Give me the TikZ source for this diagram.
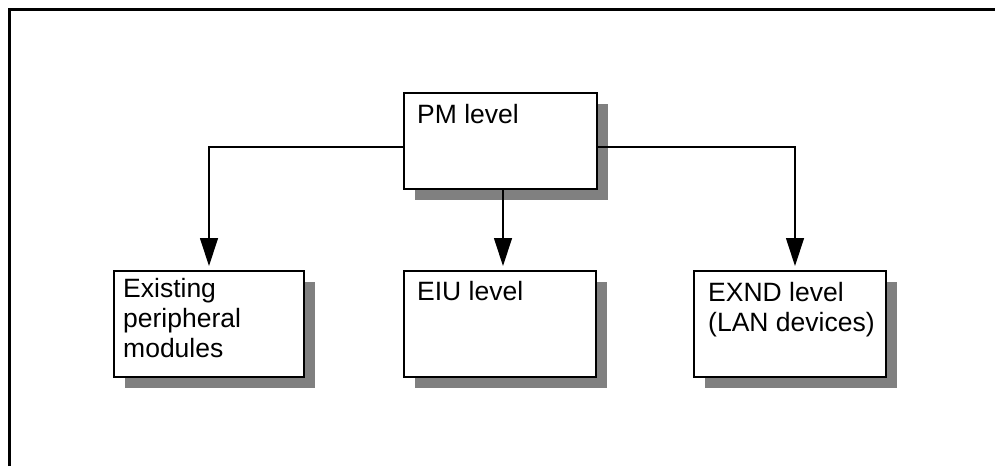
\documentclass[tikz,border=0pt]{standalone}
\usepackage{fontspec}
\setmainfont{Liberation Sans}
\usetikzlibrary{arrows.meta,shadows}
\definecolor{shadowgray}{HTML}{808080}
\begin{document}
\begin{tikzpicture}[x=1pt,y=-1pt,
  levelbox/.style={draw=black, line width=1.6pt, fill=white, inner sep=0pt,
    anchor=north west, minimum width=#1,
    drop shadow={shadow xshift=11pt, shadow yshift=-11pt, fill=shadowgray, opacity=1}},
  boxtext/.style={anchor=base west, inner sep=0pt, align=left,
    font=\fontsize{26.5pt}{30pt}\selectfont},
  link/.style={line width=1.2pt, draw=black},
  arrowlink/.style={link, -{Triangle[width=18pt,length=28pt]}, shorten >=4pt}]
  \useasboundingbox (0,0) rectangle (995,466);

  % outer frame (top and left edges)
  \draw[line width=3pt] (9.5,466) -- (9.5,9.5) -- (995,9.5);

  % boxes
  \node[levelbox=193pt, minimum height=96pt] (pm) at (403,92) {};
  \node[levelbox=190pt, minimum height=106pt] (epm) at (113,270) {};
  \node[levelbox=192pt, minimum height=106pt] (eiu) at (403,270) {};
  \node[levelbox=192pt, minimum height=106pt] (exnd) at (693,270) {};

  % labels (multi-line labels are placed by the baseline of their last line)
  \node[boxtext] (pmt) at (417,123) {PM level};
  \node[boxtext] (epmt) at (123,357) {Existing\\peripheral\\modules};
  \node[boxtext] (eiut) at (417,300) {EIU level};
  \node[boxtext] (exndt) at (708,331) {EXND level\\(LAN devices)};

  % connectors
  \coordinate (lcorner) at (209,147);
  \coordinate (rcorner) at (795,147);
  \draw[arrowlink] (pm.west |- lcorner) -- (lcorner) -- (lcorner |- epm.north);
  \draw[arrowlink] (pm.east |- rcorner) -- (rcorner) -- (rcorner |- exnd.north);
  \draw[arrowlink] (503,188) -- (503,270);
\end{tikzpicture}
\end{document}
